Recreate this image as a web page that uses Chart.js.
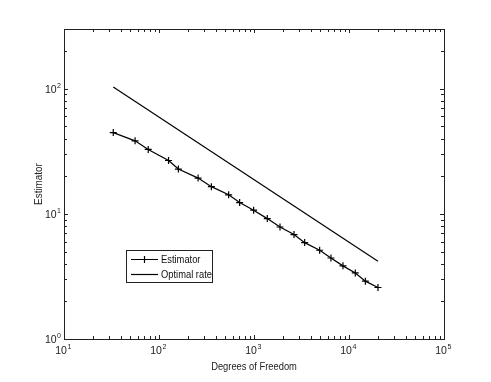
<!DOCTYPE html>
<html><head><meta charset="utf-8">
<script src="https://cdn.jsdelivr.net/npm/chart.js@4"></script>
<style>html,body{margin:0;padding:0;background:#fff}canvas{display:block}</style>
</head><body>
<canvas id="c" width="491" height="382"></canvas>
<script>
// ---- data ----
const dof = [33, 56, 77, 126, 160, 258, 356, 541, 706, 991, 1380, 1878, 2637, 3413, 4909, 6457, 8640, 11650, 14860, 20180];
const estimator = [44.6, 38.3, 32.7, 26.7, 22.8, 19.3, 16.5, 14.2, 12.3, 10.7, 9.16, 7.85, 6.83, 5.89, 5.12, 4.44, 3.84, 3.37, 2.90, 2.58];
const rateDof = [33, 20180];
const optimalRate = [103, 4.18];
const xTickExp = [1, 2, 3, 4, 5];
const yTickExp = [0, 1, 2];
const seriesNames = ['Estimator', 'Optimal rate'];
const xTitle = 'Degrees of Freedom';
const yTitle = 'Estimator';
const xMin = 10, xMax = 1e5, yMin = 1, yMax = 300;

const FONT = '"Liberation Sans", Arial, Helvetica, sans-serif';

// text drawn slightly condensed (the reference font is narrow)
function narrowText(ctx, txt, x, y, align, sx) {
  ctx.save();
  ctx.translate(x, y);
  ctx.scale(sx, 1);
  ctx.textAlign = align;
  ctx.fillText(txt, 0, 0);
  ctx.restore();
}

const framePlugin = {
  id: 'frame',
  afterDraw(chart) {
    const ctx = chart.ctx;
    const a = chart.chartArea;
    const xs = chart.scales.x, ys = chart.scales.y;
    ctx.save();
    // box
    ctx.strokeStyle = '#222';
    ctx.lineWidth = 1;
    ctx.strokeRect(Math.round(a.left) + 0.5, Math.round(a.top) + 0.5,
                   Math.round(a.right - a.left), Math.round(a.bottom - a.top));
    // ticks
    const major = 4, minor = 3;
    ctx.beginPath();
    for (let k = 1; k <= 5; k++) {
      for (let m = 1; m <= 9; m++) {
        const v = m * Math.pow(10, k);
        if (v < xMin || v > xMax) continue;
        const px = Math.round(xs.getPixelForValue(v)) + 0.5;
        const L = m === 1 ? major : minor;
        ctx.moveTo(px, a.bottom); ctx.lineTo(px, a.bottom - L);
        ctx.moveTo(px, a.top); ctx.lineTo(px, a.top + L);
      }
    }
    for (let k = 0; k <= 2; k++) {
      for (let m = 1; m <= 9; m++) {
        const v = m * Math.pow(10, k);
        if (v < yMin || v > yMax) continue;
        const py = Math.round(ys.getPixelForValue(v)) + 0.5;
        const L = m === 1 ? major : minor;
        ctx.moveTo(a.left, py); ctx.lineTo(a.left + L, py);
        ctx.moveTo(a.right, py); ctx.lineTo(a.right - L, py);
      }
    }
    ctx.stroke();

    // tick labels
    ctx.fillStyle = '#222';
    const baseFont = '10.5px ' + FONT, expFont = '7px ' + FONT;
    ctx.textBaseline = 'alphabetic';
    xTickExp.forEach(e => {
      const px = xs.getPixelForValue(Math.pow(10, e));
      ctx.font = baseFont; const w1 = ctx.measureText('10').width;
      ctx.font = expFont; const w2 = ctx.measureText(String(e)).width;
      const x0 = px - (w1 + w2) / 2 - 1;
      ctx.font = baseFont; ctx.textAlign = 'left';
      ctx.fillText('10', x0, a.bottom + 15);
      ctx.font = expFont;
      ctx.fillText(String(e), x0 + w1 + 0.5, a.bottom + 10);
    });
    yTickExp.forEach(e => {
      const py = ys.getPixelForValue(Math.pow(10, e));
      ctx.font = expFont; const w2 = ctx.measureText(String(e)).width;
      const xr = a.left - 3;
      ctx.textAlign = 'left';
      ctx.fillText(String(e), xr - w2, py - 1);
      ctx.font = baseFont; ctx.textAlign = 'right';
      ctx.fillText('10', xr - w2 - 0.5, py + 4);
    });

    // axis titles
    ctx.font = '11px ' + FONT;
    narrowText(ctx, xTitle, (a.left + a.right) / 2, 369.5, 'center', 0.85);
    ctx.save();
    ctx.translate(42, (a.top + a.bottom) / 2);
    ctx.rotate(-Math.PI / 2);
    narrowText(ctx, yTitle, 0, 0, 'center', 0.9);
    ctx.restore();

    // legend
    const lx = 126.5, ly = 250.5, lw = 86, lh = 32;
    ctx.fillStyle = '#fff';
    ctx.fillRect(lx, ly, lw, lh);
    ctx.strokeStyle = '#222';
    ctx.lineWidth = 1;
    ctx.strokeRect(lx, ly, lw, lh);
    const rows = [259.5, 274.5];
    ctx.strokeStyle = '#000';
    ctx.lineWidth = 1.2;
    rows.forEach((ry, i) => {
      ctx.beginPath();
      ctx.moveTo(131, ry); ctx.lineTo(158, ry);
      if (i === 0) { ctx.moveTo(144.5, ry - 3.5); ctx.lineTo(144.5, ry + 3.5); }
      ctx.stroke();
    });
    ctx.fillStyle = '#111';
    ctx.font = '11px ' + FONT;
    ctx.textBaseline = 'middle';
    rows.forEach((ry, i) => narrowText(ctx, seriesNames[i], 161, ry + 0.5, 'left', 0.85));
    ctx.restore();
  }
};

new Chart(document.getElementById('c'), {
  type: 'line',
  data: {
    datasets: [
      {
        label: seriesNames[0],
        data: dof.map((x, i) => ({ x, y: estimator[i] })),
        borderColor: '#000', backgroundColor: '#000',
        borderWidth: 1.2, pointStyle: 'cross', pointRadius: 3.5,
        pointBorderWidth: 1.2, pointBorderColor: '#000', tension: 0
      },
      {
        label: seriesNames[1],
        data: rateDof.map((x, i) => ({ x, y: optimalRate[i] })),
        borderColor: '#000', borderWidth: 1.2, pointRadius: 0, tension: 0
      }
    ]
  },
  options: {
    responsive: false,
    animation: false,
    devicePixelRatio: 1,
    layout: { padding: { left: 64, right: 47, top: 29, bottom: 43 } },
    plugins: { legend: { display: false }, tooltip: { enabled: false } },
    scales: {
      x: { type: 'logarithmic', min: xMin, max: xMax, display: false },
      y: { type: 'logarithmic', min: yMin, max: yMax, display: false }
    }
  },
  plugins: [framePlugin]
});
</script>
</body></html>
